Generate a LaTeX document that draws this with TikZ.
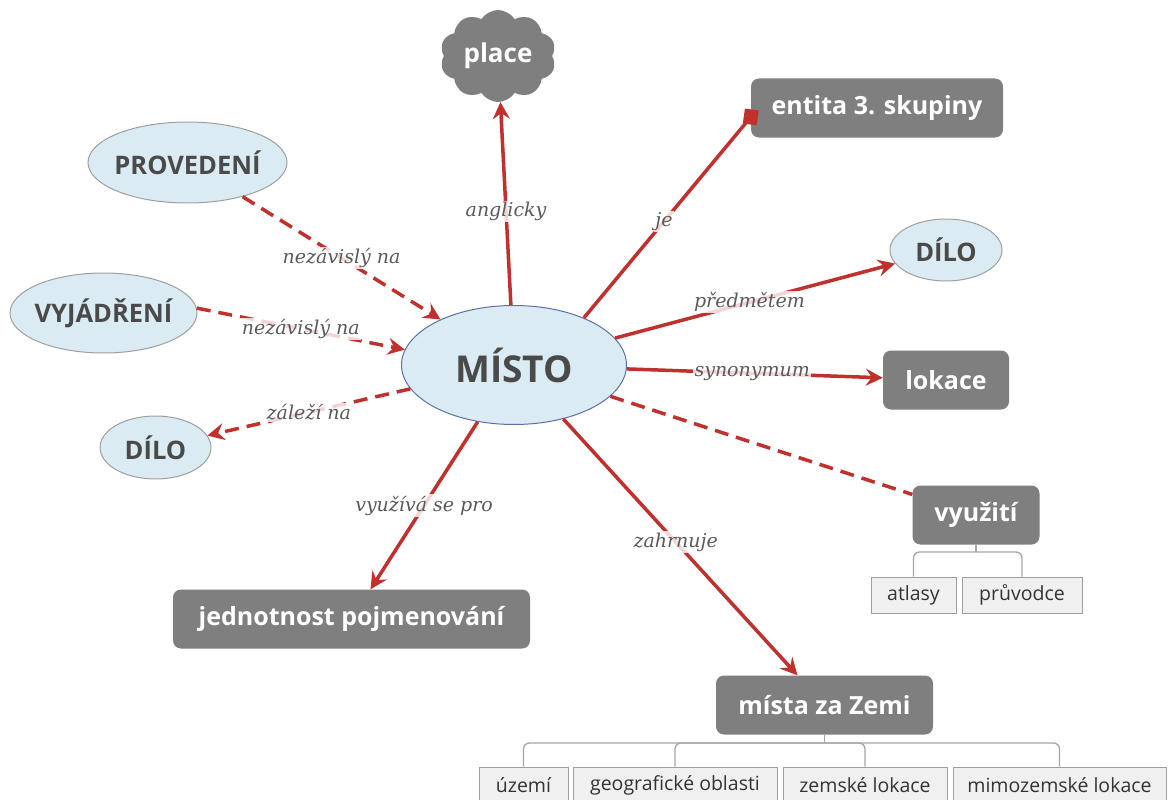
\documentclass[tikz,border=0pt]{standalone}
\usepackage{fontspec}
\setmainfont{Open Sans}
\newfontfamily\lblfont{DejaVu Serif}
\usetikzlibrary{shapes.geometric,shapes.symbols,arrows.meta}

\definecolor{boxgray}{HTML}{7F7F7F}
\definecolor{linkred}{HTML}{C0302C}
\definecolor{paleblue}{HTML}{DAEBF3}
\definecolor{txtdark}{HTML}{4A4A4A}
\definecolor{leafgray}{HTML}{F0F0F0}
\definecolor{lblgray}{HTML}{5A5A5A}
\definecolor{treegray}{HTML}{A6A6A6}
\definecolor{rimblue}{HTML}{5F70A8}

\tikzset{
  darkbox/.style={rectangle, rounded corners=8pt, fill=boxgray, text=white,
    font=\bfseries\fontsize{25}{29}\selectfont, inner sep=0pt, minimum height=59pt},
  % negative inner xsep keeps the ellipse at its minimum size
  bubble/.style={ellipse, fill=paleblue, draw=gray!75, line width=1pt, text=txtdark,
    font=\bfseries\fontsize{25.5}{29}\selectfont, inner ysep=0pt, inner xsep=-30pt},
  leaf/.style={rectangle, fill=leafgray, draw=gray!75, line width=1pt, text=black!80,
    font=\fontsize{19.5}{23}\selectfont, inner sep=0pt, minimum height=36pt},
  link/.style={draw=linkred, line width=3.5pt},
  tip/.style={-{Stealth[length=17pt,width=17pt,inset=6pt]}},
  dashlink/.style={link, dash pattern=on 14pt off 8pt},
  lbl/.style={font=\lblfont\itshape\fontsize{19}{22}\selectfont, text=lblgray,
    fill=white, fill opacity=0.8, text opacity=1, inner sep=1.5pt},
  tree/.style={draw=treegray, line width=1.3pt, rounded corners=6pt}
}

\begin{document}
\begin{tikzpicture}[x=1pt, y=-1pt]
  \useasboundingbox[fill=white] (0,0) rectangle (1171,800);

  % central concept
  \node[bubble, draw=rimblue, minimum width=225pt, minimum height=119pt,
        font=\bfseries\fontsize{37}{42}\selectfont] (misto) at (514,365) {MÍSTO};

  % surrounding concepts
  \node[cloud, cloud puffs=10, cloud puff arc=115, aspect=1.25, fill=boxgray, text=white,
        font=\bfseries\fontsize{26}{30}\selectfont, minimum width=116pt, minimum height=92pt,
        inner sep=0pt] (place) at (498,56) {place};
  \node[darkbox, minimum width=252pt] (entita) at (877,108) {entita 3. skupiny};
  \node[bubble, minimum width=112pt, minimum height=62pt] (dilor) at (946,250) {DÍLO};
  \node[darkbox, minimum width=126pt] (lokace) at (946,380) {lokace};
  \node[darkbox, minimum width=127pt] (vyuziti) at (976,515) {využití};
  \node[leaf, minimum width=85pt] (atlasy) at (913.5,595) {atlasy};
  \node[leaf, minimum width=120pt] (pruvodce) at (1022,595) {průvodce};
  \node[darkbox, minimum width=217pt] (mz) at (824.5,705) {místa za Zemi};
  \node[leaf, minimum width=89pt] (uzemi) at (523.5,785) {území};
  \node[leaf, minimum width=204pt] (geo) at (675,785) {geografické oblasti};
  \node[leaf, minimum width=164pt] (zem) at (865,785) {zemské lokace};
  \node[leaf, minimum width=213pt] (mim) at (1059.5,785) {mimozemské lokace};
  \node[darkbox, minimum width=357pt] (jedn) at (351.5,619) {jednotnost pojmenování};
  \node[bubble, minimum width=199pt, minimum height=81pt] (prov) at (187.5,162.5) {PROVEDENÍ};
  \node[bubble, minimum width=187pt, minimum height=80pt] (vyj) at (103.5,313) {VYJÁDŘENÍ};
  \node[bubble, minimum width=111pt, minimum height=63pt] (dilol) at (155.5,447.5) {DÍLO};

  % links
  \draw[link, tip] (misto) -- (place) node[lbl, pos=0.46] {anglicky};
  \coordinate (sqend) at ([yshift=-9pt]entita.west);
  \draw[link] (misto.34) -- (sqend) node[lbl, pos=0.48] {je};
  \fill[linkred, rotate around={-8:(sqend)}] ([shift={(-7pt,-7.5pt)}]sqend) rectangle ([shift={(7pt,7.5pt)}]sqend);
  \draw[link, tip] (misto) -- (dilor) node[lbl, pos=0.48] {předmětem};
  \draw[link, tip] (misto) -- (lokace) node[lbl, pos=0.49] {synonymum};
  \draw[dashlink] (misto) -- (vyuziti);
  \draw[link, tip] (misto) -- (mz) node[lbl, pos=0.48] {zahrnuje};
  \draw[link, tip] (misto) -- (jedn) node[lbl, pos=0.5] {využívá se pro};
  \draw[dashlink, tip] (misto) -- (dilol) node[lbl, pos=0.5] {záleží na};
  \draw[dashlink, tip] (prov) -- (misto) node[lbl, pos=0.5] {nezávislý na};
  \draw[dashlink, tip] (vyj.3) -- (misto.172) node[lbl, pos=0.5] {nezávislý na};

  % part-of trees
  \coordinate (vbar) at (976,552);
  \draw[tree] (vyuziti.south) -- (vbar);
  \draw[tree] (vbar) -| (atlasy.north);
  \draw[tree] (vbar) -| (pruvodce.north);

  \coordinate (mbar) at (824.5,743);
  \draw[tree] (mz.south) -- (mbar);
  \draw[tree] (mbar) -| (uzemi.north);
  \draw[tree] (mbar) -| (geo.north);
  \draw[tree] (mbar) -| (zem.north);
  \draw[tree] (mbar) -| (mim.north);
\end{tikzpicture}
\end{document}
